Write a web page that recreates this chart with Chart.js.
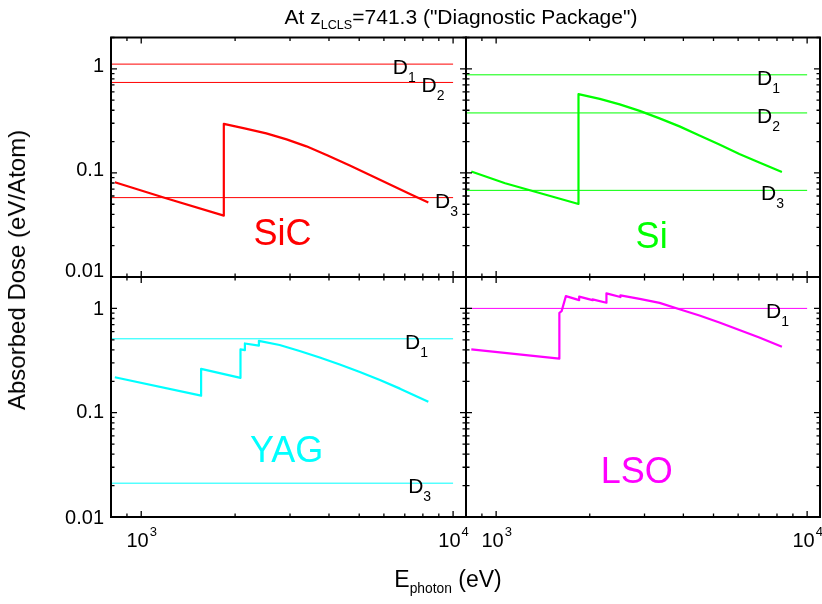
<!DOCTYPE html>
<html>
<head>
<meta charset="utf-8">
<title>Absorbed Dose</title>
<script src="https://cdn.jsdelivr.net/npm/chart.js"></script>
<style>
  body { margin:0; background:#fff; font-family:"Liberation Sans", Arial, sans-serif; }
  #wrap { position:relative; width:822px; height:604px; overflow:hidden; }
  canvas { position:absolute; left:0; top:0; }
  .txt { position:absolute; white-space:nowrap; color:#000; line-height:1; }
  .txt sub { font-size:0.6em; vertical-align:-0.4em; }
  #title { left:461px; top:6px; font-size:21px; transform:translateX(-50%); }
  #xtitle { left:448px; top:568px; font-size:23px; transform:translateX(-50%); }
  #ytitle { left:17px; top:270px; font-size:24px; transform:translate(-50%,-50%) rotate(-90deg); }
</style>
</head>
<body>
<div id="wrap">
  <canvas id="c1" width="822" height="604"></canvas>
  <canvas id="c2" width="822" height="604"></canvas>
  <canvas id="c3" width="822" height="604"></canvas>
  <canvas id="c4" width="822" height="604"></canvas>
  <div class="txt" id="title">At z<sub>LCLS</sub>=741.3 ("Diagnostic Package")</div>
  <div class="txt" id="xtitle">E<sub>photon</sub> (eV)</div>
  <div class="txt" id="ytitle">Absorbed Dose (eV/Atom)</div>
</div>
<script>
// photon energy (eV) and absorbed dose (eV/atom)
const sicE = [823, 1201, 1840, 1840, 2144, 2518, 2925, 3386, 3963, 4665, 5410, 6272, 7272, 8330];
const sicD = [0.0814, 0.0571, 0.0389, 0.296, 0.268, 0.240, 0.210, 0.180, 0.1473, 0.118, 0.0957, 0.0775, 0.0628, 0.0520];
const sicLevels = [1.11, 0.74, 0.0579];

const siE = [832, 1069, 1840, 1840, 2154, 2497, 2894, 3354, 3887, 4506, 5223, 6054, 7018, 8297];
const siD = [0.103, 0.0796, 0.0503, 0.571, 0.5146, 0.4557, 0.3947, 0.3342, 0.280, 0.2294, 0.1879, 0.1523, 0.1262, 0.1022];
const siLevels = [0.876, 0.377, 0.068];

const yagE = [823, 1556, 1556, 2081, 2081, 2150, 2150, 2384, 2384, 2778, 3221, 3736, 4332, 5023, 5826, 6755, 8330];
const yagD = [0.2186, 0.1457, 0.263, 0.216, 0.404, 0.398, 0.461, 0.44, 0.489, 0.4457, 0.3903, 0.338, 0.2893, 0.2451, 0.2054, 0.1701, 0.1276];
const yagLevels = [0.511, 0.0211];

const lsoE = [832, 1597, 1597, 1624, 1676, 1849, 1849, 2042, 2042, 2263, 2263, 2510, 2510, 2894, 3354, 3887, 4506, 5223, 6054, 7018, 8297];
const lsoD = [0.404, 0.330, 0.908, 0.942, 1.31, 1.20, 1.296, 1.20, 1.22, 1.134, 1.394, 1.285, 1.334, 1.234, 1.13, 0.982, 0.856, 0.7333, 0.6213, 0.5263, 0.428];
const lsoLevels = [1.0];

// level labels: [subscript, energy, dose]
const sicTags = [['1', 6410, 1.11], ['2', 7925, 0.74], ['3', 8750, 0.0579]];
const siTags = [['1', 6900, 0.876], ['2', 6900, 0.377], ['3', 7105, 0.068]];
const yagTags = [['1', 7012, 0.511], ['3', 7177, 0.0211]];
const lsoTags = [['1', 7373, 1.0]];

const xMajor = [1000, 10000];
const xMinor = [900, 2000, 3000, 4000, 5000, 6000, 7000, 8000, 9000];
const yMajor = [0.01, 0.1, 1];
const yMinor = [0.02, 0.03, 0.04, 0.05, 0.06, 0.07, 0.08, 0.09, 0.2, 0.3, 0.4, 0.5, 0.6, 0.7, 0.8, 0.9, 2];
const yLabels = ['0.01', '0.1', '1'];
const xLabels = [['10', '3'], ['10', '4']];

const FONT = '"Liberation Sans", Arial, sans-serif';

function panel(id, box, E, D, levels, tags, color, name, namePos, yShift, showX) {
  const datasets = levels.map(v => ({
    data: [{x: 800, y: v}, {x: 10000, y: v}],
    borderColor: color, borderWidth: 1, pointRadius: 0
  }));
  datasets.push({
    data: E.map((e, i) => ({x: e, y: D[i]})),
    borderColor: color, borderWidth: 2.2, pointRadius: 0
  });

  const deco = {
    id: 'deco',
    afterDraw(chart) {
      const {ctx, chartArea: a, scales: {x, y}} = chart;
      ctx.save();
      ctx.strokeStyle = '#000';
      ctx.lineWidth = 1.3;
      ctx.beginPath();
      const tick = (vals, len) => {
        vals.forEach(v => {
          const px = x.getPixelForValue(v);
          ctx.moveTo(px, a.top); ctx.lineTo(px, a.top + len);
          ctx.moveTo(px, a.bottom); ctx.lineTo(px, a.bottom - len);
        });
      };
      const tickY = (vals, len) => {
        vals.forEach(v => {
          const py = y.getPixelForValue(v);
          ctx.moveTo(a.left, py); ctx.lineTo(a.left + len, py);
          ctx.moveTo(a.right, py); ctx.lineTo(a.right - len, py);
        });
      };
      tick(xMajor, 6); tick(xMinor, 3.5);
      tickY(yMajor, 6); tickY(yMinor, 3.5);
      ctx.stroke();
      ctx.lineWidth = 2;
      ctx.strokeRect(a.left, a.top, a.right - a.left, a.bottom - a.top);

      ctx.fillStyle = '#000';
      if (yShift) {
        ctx.font = '20px ' + FONT;
        ctx.textAlign = 'right';
        ctx.textBaseline = 'middle';
        yMajor.forEach((v, i) => ctx.fillText(yLabels[i], a.left - 7, y.getPixelForValue(v) + yShift[i]));
      }
      if (showX) {
        xMajor.forEach((v, i) => {
          const [b, s] = xLabels[i];
          ctx.font = '20px ' + FONT;
          const wb = ctx.measureText(b).width;
          ctx.font = '13px ' + FONT;
          const ws = ctx.measureText(s).width;
          const left = x.getPixelForValue(v) - (wb + ws) / 2;
          ctx.textAlign = 'left';
          ctx.textBaseline = 'alphabetic';
          ctx.font = '20px ' + FONT;
          ctx.fillText(b, left, a.bottom + 30);
          ctx.font = '13px ' + FONT;
          ctx.fillText(s, left + wb + 1, a.bottom + 19);
        });
      }
      tags.forEach(([s, e, v]) => {
        const px = x.getPixelForValue(e), py = y.getPixelForValue(v);
        ctx.textAlign = 'left';
        ctx.textBaseline = 'alphabetic';
        ctx.font = '21px ' + FONT;
        ctx.fillText('D', px, py + 10);
        const w = ctx.measureText('D').width;
        ctx.font = '14px ' + FONT;
        ctx.fillText(s, px + w, py + 18);
      });
      ctx.fillStyle = color;
      ctx.font = '36px ' + FONT;
      ctx.textAlign = 'center';
      ctx.textBaseline = 'middle';
      ctx.fillText(name, x.getPixelForValue(namePos[0]), y.getPixelForValue(namePos[1]));
      ctx.restore();
    }
  };

  new Chart(document.getElementById(id), {
    type: 'line',
    data: {datasets},
    options: {
      responsive: false,
      animation: false,
      layout: {padding: {left: box[0], top: box[1], right: 822 - box[2], bottom: 604 - box[3]}},
      scales: {
        x: {type: 'logarithmic', min: 800, max: 11000, display: false},
        y: {type: 'logarithmic', min: 0.01, max: 2, display: false}
      },
      elements: {line: {tension: 0, borderJoinStyle: 'round'}},
      plugins: {legend: {display: false}, tooltip: {enabled: false}}
    },
    plugins: [deco]
  });
}

panel('c1', [111, 37.5, 466, 277], sicE, sicD, sicLevels, sicTags, '#ff0000', 'SiC', [2838, 0.0253], [-6, -2, -2], false);
panel('c2', [466, 37.5, 820, 277], siE, siD, siLevels, siTags, '#00ff00', 'Si', [3162, 0.0237], null, false);
panel('c3', [111, 277, 466, 517], yagE, yagD, yagLevels, yagTags, '#00ffff', 'YAG', [2925, 0.0422], [1, 0, 1], true);
panel('c4', [466, 277, 820, 517], lsoE, lsoD, lsoLevels, lsoTags, '#ff00ff', 'LSO', [2833, 0.0265], null, true);
</script>
</body>
</html>
